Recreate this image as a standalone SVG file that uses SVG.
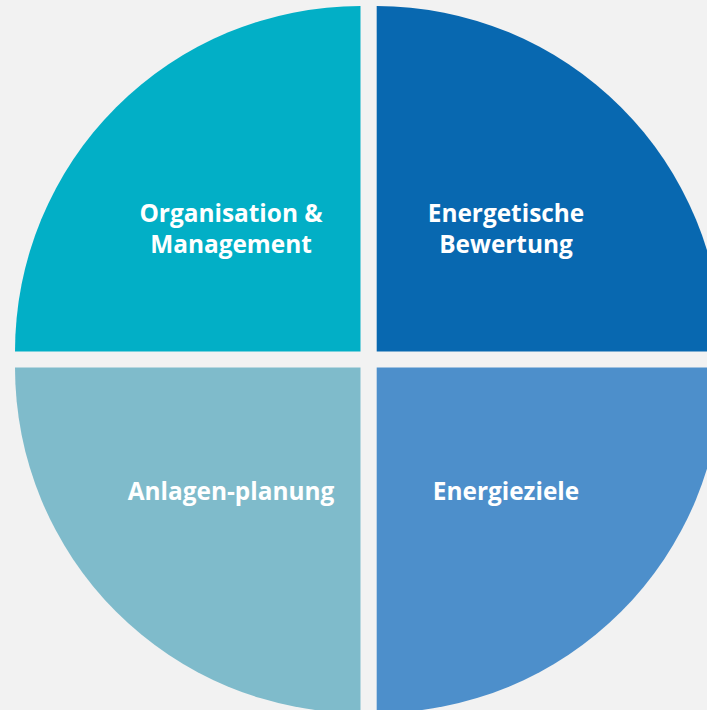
<svg xmlns="http://www.w3.org/2000/svg" width="707" height="710" viewBox="0 0 707 710">
<style>
.lbl{font-family:"Open Sans","Liberation Sans",sans-serif;font-weight:bold;font-size:24.4px;fill:#FFFFFF;text-anchor:middle}
</style>
<rect width="707" height="710" fill="#F2F2F2"/>
<g id="organisation">
<path d="M360.5,351.5 H15 A345.5,345.5 0 0 1 360.5,6 Z" fill="#02AFC6"/>
<text class="lbl" x="231" y="222">Organisation &amp;</text>
<text class="lbl" x="231" y="253">Management</text>
</g>
<g id="bewertung">
<path d="M376.7,351.5 V6 A345.5,345.5 0 0 1 722.2,351.5 Z" fill="#0868B0"/>
<text class="lbl" x="506" y="222">Energetische</text>
<text class="lbl" x="506" y="253">Bewertung</text>
</g>
<g id="anlagenplanung">
<path d="M360.5,367.5 H15 A345.5,345.5 0 0 0 360.5,713 Z" fill="#7FBBCB"/>
<text class="lbl" x="231" y="500">Anlagen-planung</text>
</g>
<g id="energieziele">
<path d="M376.7,367.5 V713 A345.5,345.5 0 0 0 722.2,367.5 Z" fill="#4D8FCB"/>
<text class="lbl" x="506" y="500">Energieziele</text>
</g>
<g id="connectors"/>
</svg>
